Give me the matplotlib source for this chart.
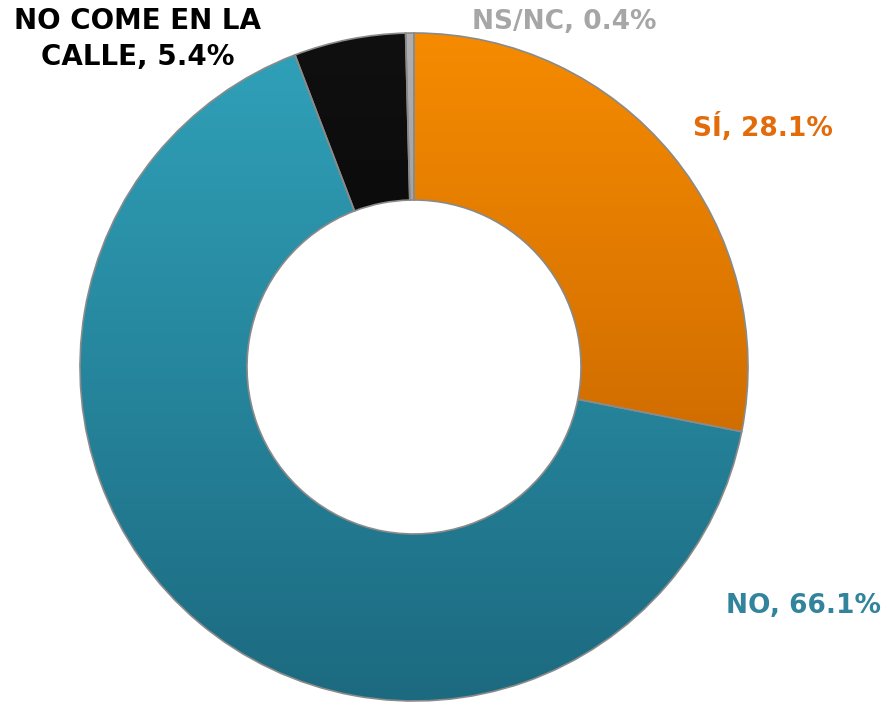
import numpy as np
import matplotlib.pyplot as plt
from matplotlib.colors import LinearSegmentedColormap

labels = ["SÍ", "NO", "NO COME EN LA\nCALLE", "NS/NC"]
values = [28.1, 66.1, 5.4, 0.4]
top_colors = ["#F68B00", "#30A2BA", "#101010", "#B0B0B0"]
bottom_colors = ["#B85A00", "#1C6A80", "#000000", "#808080"]
label_colors = ["#E36C0A", "#31849B", "#000000", "#A6A6A6"]

plt.rcParams['font.family'] = ['DejaVu Sans']

W, H = 889, 708
fig = plt.figure(figsize=(W / 100, H / 100), dpi=100)
ax = fig.add_axes([80 / W, 1 - 701 / H, 668 / W, 668 / H])

wedges, _ = ax.pie(values, colors=top_colors, startangle=90, counterclock=False,
                   radius=1, wedgeprops=dict(width=0.5, edgecolor="#8a8a8a", linewidth=1.2))

# vertical gradient fill in each wedge
grad = np.linspace(1, 0, 256).reshape(-1, 1)
for w, c1, c2 in zip(wedges, top_colors, bottom_colors):
    cmap = LinearSegmentedColormap.from_list("g", [c2, c1])
    im = ax.imshow(grad, cmap=cmap, extent=[-1, 1, -1, 1], aspect="auto",
                   zorder=w.get_zorder() + 0.1, origin="upper")
    im.set_clip_path(w)
for w in wedges:
    w.set_facecolor("none")
    w.set_zorder(5)

ax.set_xlim(-1, 1)
ax.set_ylim(-1, 1)
ax.set_aspect("equal")
ax.axis("off")

# label positions in pixels (center of text)
pos = [(763, 127), (804, 606), (138, 39), (564, 22)]
sizes = [19, 19, 20, 19]
for lab, v, c, (x, y), fs in zip(labels, values, label_colors, pos, sizes):
    fig.text(x / W, 1 - y / H, f"{lab}, {v}%", color=c, fontsize=fs,
             fontweight="bold", ha="center", va="center", linespacing=1.4)

fig.savefig("out.png", dpi=100)
